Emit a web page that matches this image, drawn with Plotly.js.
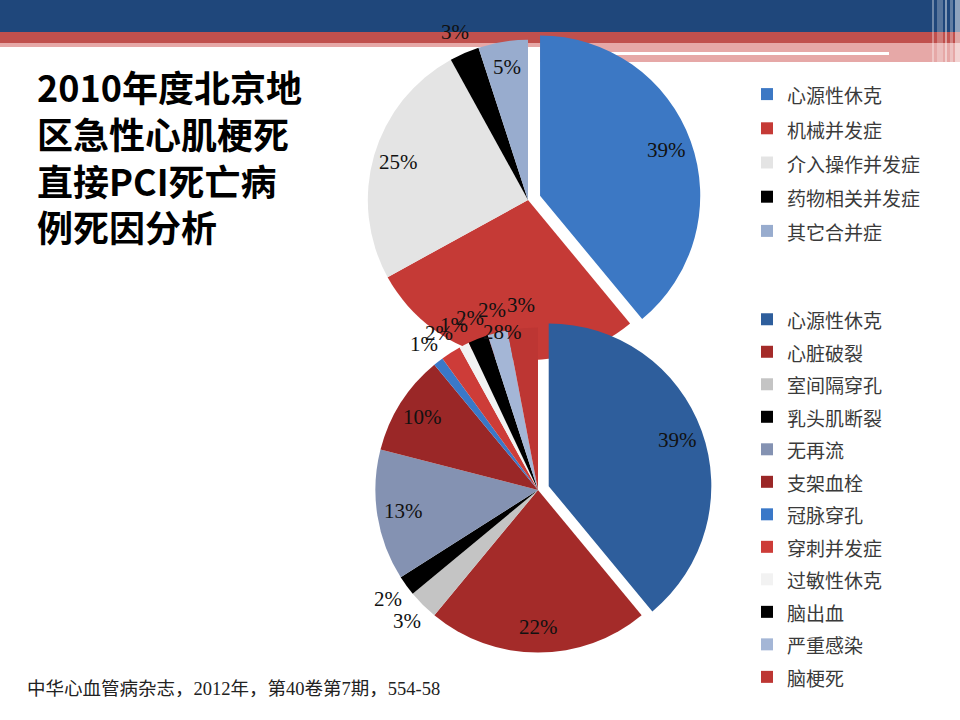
<!DOCTYPE html>
<html>
<head>
<meta charset="utf-8">
<script src="https://cdn.plot.ly/plotly-3.0.1.min.js"></script>
<style>
  html, body { margin: 0; padding: 0; background: #fff; }
  #chart { width: 960px; height: 720px; }
</style>
</head>
<body>
<div id="chart"></div>
<script>
// 上图：死因大类
const causeLabels = ['心源性休克', '机械并发症', '介入操作并发症', '药物相关并发症', '其它合并症'];
const causeValues = [39, 28, 25, 3, 5];
const causeColors = ['#3c78c4', '#c53a36', '#e4e4e4', '#000000', '#98acce'];
const causeTextPos = ['inside', 'inside', 'inside', 'outside', 'inside'];

// 下图：具体死因
const detailLabels = ['心源性休克', '心脏破裂', '室间隔穿孔', '乳头肌断裂', '无再流', '支架血栓',
                      '冠脉穿孔', '穿刺并发症', '过敏性休克', '脑出血', '严重感染', '脑梗死'];
const detailValues = [39, 22, 3, 2, 13, 10, 1, 2, 1, 2, 2, 3];
const detailColors = ['#2e5e9c', '#a42b29', '#c4c4c4', '#000000', '#8492b2', '#9a2727',
                      '#3a78c8', '#cd3c38', '#f2f2f2', '#000000', '#a4b6d6', '#bd3633'];
const detailTextPos = ['inside', 'inside', 'outside', 'outside', 'inside', 'inside',
                       'outside', 'outside', 'outside', 'outside', 'outside', 'outside'];

const titleLines = ['2010年度北京地', '区急性心肌梗死', '直接PCI死亡病', '例死因分析'];
const sourceText = '中华心血管病杂志，2012年，第40卷第7期，554-58';

const W = 960, H = 720;
const py = v => 1 - v / H;   // pixel row -> paper y
const px = v => v / W;

// legend text is drawn smaller than the legend font so rows get the wider spacing
const legText = s => '<span style="font-size:19px">' + s + '</span>';

const pctFont = { family: 'Liberation Serif, serif', size: 21, color: '#111' };

const topDomain = { x: [px(355), px(701)], y: [py(373), py(27)] };
const botDomain = { x: [px(364), px(712)], y: [py(664), py(316)] };
const topPull = [0.08, 0, 0, 0, 0];
const botPull = [0.07, 0, 0, 0, 0, 0, 0, 0, 0, 0, 0, 0];

// percent labels placed like the original (near the rim), from the same values
function pctLabels(values, domain, pull, pos) {
    const total = values.reduce((a, b) => a + b, 0);
    const x0 = domain.x[0] * W, x1 = domain.x[1] * W;
    const y0 = (1 - domain.y[1]) * H, y1 = (1 - domain.y[0]) * H;
    const maxPull = Math.max(...pull);
    const r = Math.min(x1 - x0, y1 - y0) / (2 + 2 * maxPull);
    const cx = (x0 + x1) / 2, cy = (y0 + y1) / 2;
    let cum = 0;
    return values.map((v, i) => {
        const a = 2 * Math.PI * (cum + v / 2) / total;
        cum += v;
        const k = (pos[i] === 'inside' ? 0.84 : 1.14) + pull[i];
        return {
            xref: 'paper', yref: 'paper', showarrow: false,
            x: px(cx + Math.sin(a) * k * r), y: py(cy - Math.cos(a) * k * r),
            xanchor: 'center', yanchor: 'middle',
            text: Math.round(v / total * 100) + '%', font: pctFont
        };
    });
}

const data = [
    {
        type: 'pie',
        labels: causeLabels.map(legText),
        values: causeValues,
        sort: false,
        direction: 'clockwise',
        rotation: 0,
        pull: topPull,
        marker: { colors: causeColors, line: { width: 0 } },
        textinfo: 'none',
        domain: topDomain,
        legend: 'legend',
        hoverinfo: 'none'
    },
    {
        type: 'pie',
        // zero-width space keeps these labels apart from the top pie's legend
        labels: detailLabels.map(s => legText(s + '\u200b')),
        values: detailValues,
        sort: false,
        direction: 'clockwise',
        rotation: 0,
        pull: botPull,
        marker: { colors: detailColors, line: { width: 0 } },
        textinfo: 'none',
        domain: botDomain,
        legend: 'legend2',
        hoverinfo: 'none'
    }
];

// header bands
const rect = (x0, y0, x1, y1, color) => ({
    type: 'rect', xref: 'paper', yref: 'paper', layer: 'below',
    x0: px(x0), x1: px(x1), y0: py(y1), y1: py(y0),
    fillcolor: color, line: { width: 0 }
});

const shapes = [
    rect(0, 0, 960, 32, '#1f477b'),
    rect(0, 32, 960, 43, '#c0504d'),
    rect(0, 43, 960, 47, '#e6a8a7'),
    rect(540, 47, 960, 62, '#e6a8a7'),
    rect(600, 52, 889, 55, '#ffffff'),
    // faded stripes at the right edge
    rect(932, 0, 934, 64, 'rgba(255,255,255,0.35)'),
    rect(937, 0, 943, 64, 'rgba(255,255,255,0.25)'),
    rect(945, 0, 947, 64, 'rgba(255,255,255,0.45)'),
    rect(950, 0, 953, 64, 'rgba(255,255,255,0.3)'),
    rect(955, 0, 960, 64, 'rgba(255,255,255,0.5)')
];

const annotations = [
    {
        xref: 'paper', yref: 'paper', x: px(35), y: py(58),
        xanchor: 'left', yanchor: 'top', align: 'left', showarrow: false,
        text: titleLines.join('<br>'),
        font: { family: 'Noto Sans CJK SC', size: 36, color: '#000', weight: 'bold' }
    },
    {
        xref: 'paper', yref: 'paper', x: px(25), y: py(689),
        xanchor: 'left', yanchor: 'middle', showarrow: false,
        text: sourceText,
        font: { family: 'Liberation Serif, Noto Sans CJK SC', size: 18.5, color: '#222' }
    }
].concat(
    pctLabels(causeValues, topDomain, topPull, causeTextPos),
    pctLabels(detailValues, botDomain, botPull, detailTextPos)
);

const legendFont = { family: 'Noto Sans CJK SC', color: '#3a3a3a' };

const layout = {
    width: W,
    height: H,
    margin: { t: 0, b: 0, l: 0, r: 0 },
    paper_bgcolor: '#fff',
    plot_bgcolor: '#fff',
    showlegend: true,
    shapes: shapes,
    annotations: annotations,
    legend: {
        x: px(747), y: py(72), xanchor: 'left', yanchor: 'top',
        font: Object.assign({ size: 24 }, legendFont),
        bgcolor: 'rgba(0,0,0,0)', itemclick: false, itemdoubleclick: false
    },
    legend2: {
        x: px(747), y: py(298), xanchor: 'left', yanchor: 'top',
        font: Object.assign({ size: 22.7 }, legendFont),
        bgcolor: 'rgba(0,0,0,0)', itemclick: false, itemdoubleclick: false
    }
};

Plotly.newPlot('chart', data, layout, { displayModeBar: false, responsive: false });
</script>
</body>
</html>
